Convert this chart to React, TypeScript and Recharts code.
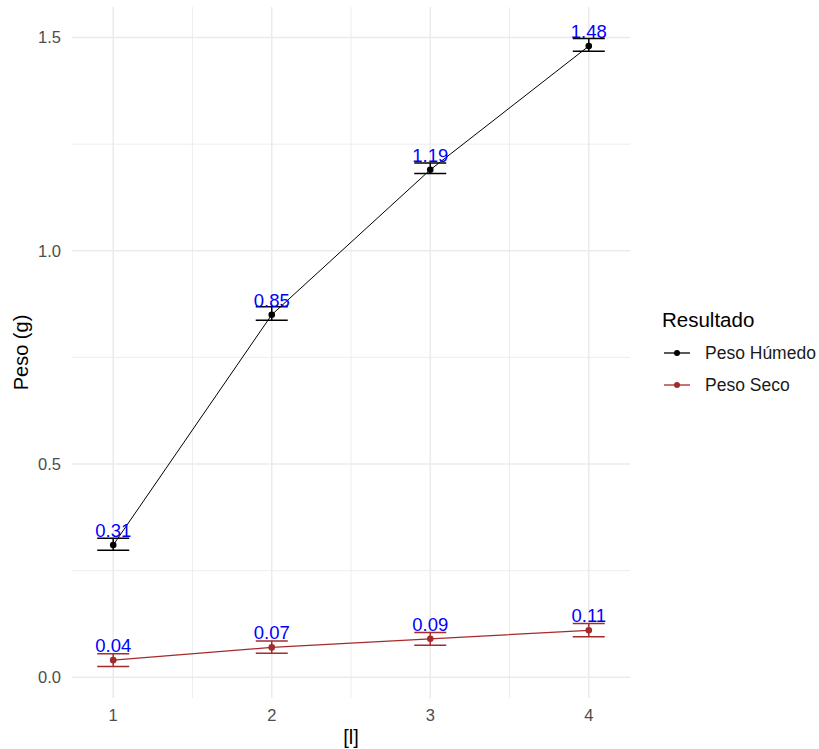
import React from "react";
import {
  CartesianGrid,
  ComposedChart,
  ErrorBar,
  LabelList,
  Line,
  XAxis,
  YAxis,
} from "recharts";

const pruebas = [1, 2, 3, 4];
const pesoHumedo = [0.31, 0.85, 1.19, 1.48];
const humedoMin = [0.298, 0.837, 1.181, 1.468];
const humedoMax = [0.326, 0.869, 1.206, 1.498];
const pesoSeco = [0.04, 0.07, 0.09, 0.11];
const secoMin = [0.025, 0.056, 0.075, 0.095];
const secoMax = [0.055, 0.085, 0.105, 0.126];

const yTicks = [0, 0.5, 1, 1.5];
const yMinor = [0.25, 0.75, 1.25];
const xMinor = [1.5, 2.5, 3.5];

const HUMEDO = "#000000";
const SECO = "#A52A2A";
const GRID = "#EBEBEB";
const FONT = "'Liberation Sans', Arial, sans-serif";

const data = pruebas.map((x, i) => ({
  x,
  humedo: pesoHumedo[i],
  humedoErr: [pesoHumedo[i] - humedoMin[i], humedoMax[i] - pesoHumedo[i]],
  seco: pesoSeco[i],
  secoErr: [pesoSeco[i] - secoMin[i], secoMax[i] - pesoSeco[i]],
}));

const series = [
  { name: "Peso Húmedo", color: HUMEDO },
  { name: "Peso Seco", color: SECO },
];

// leyenda aparte, a la derecha del panel
function ResultadoLegend() {
  return (
    <svg
      width={159}
      height={110}
      style={{ position: "absolute", left: 660, top: 300, display: "block" }}
    >
      <text x={2} y={27} fontSize={20.5} fill="#000" fontFamily={FONT}>
        Resultado
      </text>
      {series.map((s, i) => {
        const cy = 53 + i * 32;
        return (
          <g key={s.name}>
            <line x1={4} x2={30} y1={cy} y2={cy} stroke={s.color} strokeWidth={1.3} />
            <circle cx={17} cy={cy} r={3} fill={s.color} />
            <text x={45} y={cy} dy="0.35em" fontSize={17.5} fill="#1a1a1a" fontFamily={FONT}>
              {s.name}
            </text>
          </g>
        );
      })}
    </svg>
  );
}

export default function App() {
  return (
    <div style={{ position: "absolute", left: 0, top: 0, width: 819, height: 749, fontFamily: FONT, background: "#fff" }}>
      <ComposedChart
        width={819}
        height={749}
        data={data}
        margin={{ top: 7, right: 189, bottom: 0, left: 0 }}
      >
        <CartesianGrid
          stroke={GRID}
          strokeWidth={0.9}
          horizontalValues={yMinor}
          verticalValues={xMinor}
        />
        <CartesianGrid
          stroke={GRID}
          strokeWidth={1.5}
          horizontalValues={yTicks}
          verticalValues={pruebas}
        />
        <XAxis
          type="number"
          dataKey="x"
          domain={[0.74, 4.26]}
          ticks={pruebas}
          allowDataOverflow
          axisLine={false}
          tickLine={false}
          tickSize={0}
          tickMargin={11}
          height={51}
          tick={{ fill: "#4D4D4D", fontSize: 16.5 }}
          label={(props: any) => {
            const vb = props.viewBox;
            return (
              <text x={vb.x + vb.width / 2} y={744} textAnchor="middle" fontSize={20} fill="#000">
                [l]
              </text>
            );
          }}
        />
        <YAxis
          type="number"
          domain={[-0.0487, 1.5717]}
          ticks={yTicks}
          allowDataOverflow
          axisLine={false}
          tickLine={false}
          tickSize={0}
          tickMargin={11}
          width={72}
          tick={{ fill: "#4D4D4D", fontSize: 16.5 }}
          tickFormatter={(v: number) => v.toFixed(1)}
          label={(props: any) => {
            const vb = props.viewBox;
            const cy = vb.y + vb.height / 2;
            return (
              <text
                x={21}
                y={cy}
                transform={`rotate(-90, 21, ${cy})`}
                textAnchor="middle"
                dominantBaseline="central"
                fontSize={20}
                fill="#000"
              >
                Peso (g)
              </text>
            );
          }}
        />
        <Line
          dataKey="humedo"
          name="Peso Húmedo"
          stroke={HUMEDO}
          strokeWidth={1}
          dot={{ r: 3.3, fill: HUMEDO, stroke: HUMEDO, strokeWidth: 0 }}
          activeDot={false}
          isAnimationActive={false}
        >
          <ErrorBar dataKey="humedoErr" direction="y" width={16} stroke={HUMEDO} strokeWidth={1.5} />
          <LabelList
            dataKey="humedo"
            position="top"
            offset={8}
            fill="#0000FF"
            fontSize={18.5}
            formatter={(v: any) => Number(v).toFixed(2)}
          />
        </Line>
        <Line
          dataKey="seco"
          name="Peso Seco"
          stroke={SECO}
          strokeWidth={1.3}
          dot={{ r: 3.3, fill: SECO, stroke: SECO, strokeWidth: 0 }}
          activeDot={false}
          isAnimationActive={false}
        >
          <ErrorBar dataKey="secoErr" direction="y" width={16} stroke={SECO} strokeWidth={1.5} />
          <LabelList
            dataKey="seco"
            position="top"
            offset={8}
            fill="#0000FF"
            fontSize={18.5}
            formatter={(v: any) => Number(v).toFixed(2)}
          />
        </Line>
      </ComposedChart>
      <ResultadoLegend />
    </div>
  );
}
